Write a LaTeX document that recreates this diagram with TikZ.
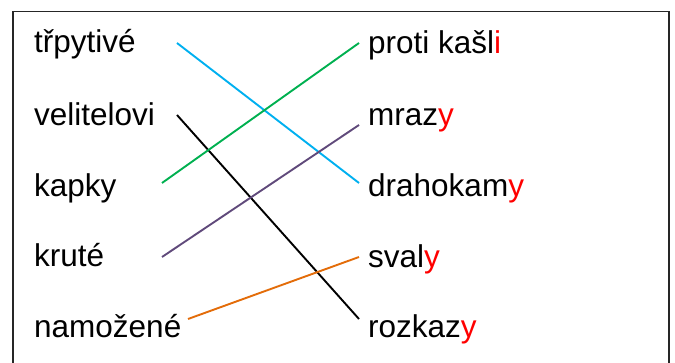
\documentclass[tikz,border=0pt]{standalone}
\usepackage{fontspec}
\setmainfont{Liberation Sans}
\definecolor{lcyan}{HTML}{00B0F0}
\definecolor{lgreen}{HTML}{00B050}
\definecolor{lpurple}{HTML}{604A7B}
\definecolor{lorange}{HTML}{E36C09}
\definecolor{lred}{HTML}{FF0000}
\newcommand{\rd}[1]{\textcolor{lred}{#1}}
\begin{document}
\begin{tikzpicture}[x=1pt,y=-1pt,
  word/.style={anchor=base west,inner sep=0pt,font=\fontsize{31.5}{36}\selectfont},
  link/.style={line width=1.9pt},
  frame/.style={line width=1.8pt,draw=black!85}]
\useasboundingbox (0,0) rectangle (675,363);
\draw[frame] (13,366) -- (13,11.5) -- (669,11.5) -- (669,366);
% left words
\node[word] (l1) at (34,53) {třpytivé};
\node[word] (l2) at (34,126) {velitelovi};
\node[word] (l3) at (34,197) {kapky};
\node[word] (l4) at (34,267) {kruté};
\node[word] (l5) at (34,338) {namožené};
% right words
\node[word] (r1) at (368,54) {proti kašl\rd{i}};
\node[word] (r2) at (368,125.5) {mraz\rd{y}};
\node[word] (r3) at (368,197) {drahokam\rd{y}};
\node[word] (r4) at (368,267.5) {sval\rd{y}};
\node[word] (r5) at (368,338) {rozkaz\rd{y}};
% connector ends
\coordinate (a1) at (177,43);
\coordinate (a2) at (177,115);
\coordinate (a3) at (162,183);
\coordinate (a4) at (162,257);
\coordinate (a5) at (188,319);
\coordinate (b1) at (359,43);
\coordinate (b2) at (359,125);
\coordinate (b3) at (359,183);
\coordinate (b4) at (359,257);
\coordinate (b5) at (359,319);
\draw[link,lcyan] (a1) -- (b3);
\draw[link,black] (a2) -- (b5);
\draw[link,lgreen] (a3) -- (b1);
\draw[link,lpurple] (a4) -- (b2);
\draw[link,lorange] (a5) -- (b4);
\end{tikzpicture}
\end{document}
